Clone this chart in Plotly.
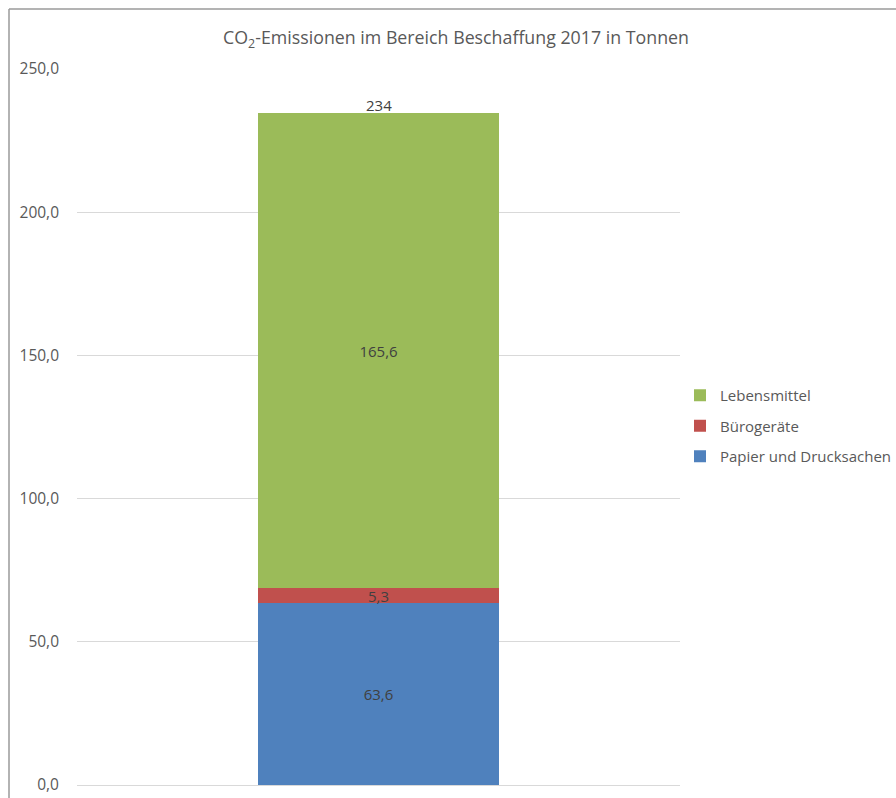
import plotly.graph_objects as go

# Emissions data (tonnes CO2), one stacked column
category = ["2017"]
series_names = ["Papier und Drucksachen", "Bürogeräte", "Lebensmittel"]
series_values = [[63.6], [5.3], [165.6]]
series_colors = ["#4f81bd", "#c0504d", "#9bbb59"]
legend_ranks = [3, 2, 1]
y_ticks = [0, 50, 100, 150, 200, 250]

FONT = "Open Sans, Liberation Sans, sans-serif"
TEXT_GREY = "#595959"

# plot-area geometry in pixels
W, H = 896, 798
L, R, T, B = 77, 216, 69, 13
pw, ph = W - L - R, H - T - B

fig = go.Figure()
for name, vals, col, rank in zip(series_names, series_values, series_colors, legend_ranks):
    fig.add_trace(go.Bar(
        x=category, y=vals, name=name,
        marker=dict(color=col, line=dict(width=0)),
        width=0.4,
        texttemplate="%{y:.1f}", textposition="inside",
        insidetextanchor="middle", constraintext="none",
        textfont=dict(family=FONT, size=15, color="#404040"),
        legendgroup=name, legendrank=rank,
    ))

# column total above the stack (category index 0)
total = sum(v[0] for v in series_values)
fig.add_annotation(
    x=0, y=total, xref="x", yref="y",
    text=f"{total:.0f}", showarrow=False, yanchor="bottom", yshift=-4,
    font=dict(family=FONT, size=15, color="#404040"),
)

# chart frame (top and left edges)
fx = (9 - L) / pw
fy = (H - B - 9) / ph
fig.add_shape(type="line", xref="paper", yref="paper", x0=fx, x1=2, y0=fy, y1=fy,
              line=dict(color="#9a9a9a", width=1.5))
fig.add_shape(type="line", xref="paper", yref="paper", x0=fx, x1=fx, y0=fy, y1=-1,
              line=dict(color="#9a9a9a", width=1.5))

fig.update_layout(
    width=W, height=H,
    margin=dict(l=L, r=R, t=T, b=B, autoexpand=False),
    barmode="stack",
    bargap=0,
    separators=",.",
    plot_bgcolor="white", paper_bgcolor="white",
    font=dict(family=FONT, size=15, color=TEXT_GREY),
    title=dict(
        text="CO<sub>2</sub>-Emissionen im Bereich Beschaffung 2017 in Tonnen",
        x=456 / W, xanchor="center", y=1 - 38 / H, yanchor="middle",
        font=dict(family=FONT, size=17.8, color=TEXT_GREY),
    ),
    xaxis=dict(type="category", showticklabels=False, showgrid=False,
               zeroline=False, showline=False, range=[-0.5, 0.5],
               automargin=False),
    yaxis=dict(range=[0, 250], tickvals=y_ticks, tickformat=".1f",
               showgrid=True, gridcolor="#d9d9d9", gridwidth=1,
               zeroline=True, zerolinecolor="#d9d9d9", zerolinewidth=1,
               showline=False, ticklabelstandoff=17, automargin=False,
               tickfont=dict(family=FONT, size=15.5, color=TEXT_GREY)),
    legend=dict(
        traceorder="grouped", tracegroupgap=8,
        x=(680 - L) / pw, xanchor="left",
        y=(H - B - 379) / ph, yanchor="top",
        itemwidth=30,
        font=dict(family=FONT, size=15, color=TEXT_GREY),
        bgcolor="rgba(0,0,0,0)",
    ),
)

fig.write_html("out.html")
